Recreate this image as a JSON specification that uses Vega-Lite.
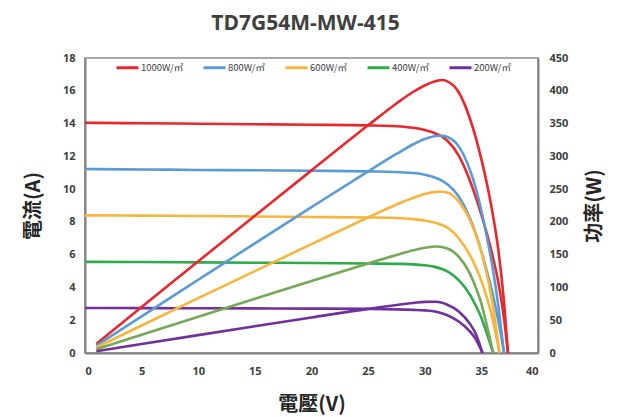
{
  "$schema": "https://vega.github.io/schema/vega-lite/v6.json",
  "autosize": "none",
  "width": 453,
  "height": 295,
  "padding": {"left": 85, "top": 58, "right": 86, "bottom": 64},
  "background": "white",
  "title": {
    "text": "TD7G54M-MW-415",
    "font": "Open Sans",
    "fontSize": 21,
    "fontWeight": "bold",
    "color": "#404040",
    "anchor": "middle",
    "offset": 18,
    "dx": -6
  },
  "config": {
    "view": {"stroke": "#8c8c8c", "strokeWidth": 1.5},
    "axis": {
      "labelFont": "Open Sans",
      "labelFontSize": 11,
      "labelFontWeight": "bold",
      "labelColor": "#404040",
      "ticks": false,
      "grid": false,
      "domainColor": "#808080",
      "domainWidth": 2,
      "titleFont": "Noto Sans CJK TC",
      "titleFontSize": 20,
      "titleFontWeight": "bold",
      "titleColor": "#262626"
    }
  },
  "data": {
    "values": [
      {"g": "1000W/㎡", "v": 0, "i": 14.05},
      {"g": "1000W/㎡", "v": 1, "i": 14.04, "p": 14.0},
      {"g": "1000W/㎡", "v": 5, "i": 14.02, "p": 70.1},
      {"g": "1000W/㎡", "v": 10, "i": 13.99, "p": 139.9},
      {"g": "1000W/㎡", "v": 15, "i": 13.96, "p": 209.4},
      {"g": "1000W/㎡", "v": 20, "i": 13.93, "p": 278.6},
      {"g": "1000W/㎡", "v": 25, "i": 13.89, "p": 347.3},
      {"g": "1000W/㎡", "v": 27.5, "i": 13.84, "p": 380.6},
      {"g": "1000W/㎡", "v": 29, "i": 13.74, "p": 398.5},
      {"g": "1000W/㎡", "v": 30, "i": 13.6, "p": 408.0},
      {"g": "1000W/㎡", "v": 31, "i": 13.38, "p": 414.8},
      {"g": "1000W/㎡", "v": 31.5, "i": 13.22, "p": 416.4},
      {"g": "1000W/㎡", "v": 32, "i": 12.95, "p": 414.4},
      {"g": "1000W/㎡", "v": 33, "i": 12.05, "p": 397.7},
      {"g": "1000W/㎡", "v": 34, "i": 10.5, "p": 357.0},
      {"g": "1000W/㎡", "v": 35, "i": 8.45, "p": 295.8},
      {"g": "1000W/㎡", "v": 35.5, "i": 7.25, "p": 257.4},
      {"g": "1000W/㎡", "v": 36, "i": 5.9, "p": 212.4},
      {"g": "1000W/㎡", "v": 36.5, "i": 4.3, "p": 157.0},
      {"g": "1000W/㎡", "v": 37, "i": 2.1, "p": 77.7},
      {"g": "1000W/㎡", "v": 37.35, "i": 0, "p": 0},

      {"g": "800W/㎡", "v": 0, "i": 11.23},
      {"g": "800W/㎡", "v": 1, "i": 11.22, "p": 11.2},
      {"g": "800W/㎡", "v": 5, "i": 11.2, "p": 56.0},
      {"g": "800W/㎡", "v": 10, "i": 11.17, "p": 111.7},
      {"g": "800W/㎡", "v": 15, "i": 11.15, "p": 167.3},
      {"g": "800W/㎡", "v": 20, "i": 11.12, "p": 222.4},
      {"g": "800W/㎡", "v": 25, "i": 11.08, "p": 277.0},
      {"g": "800W/㎡", "v": 27.5, "i": 11.04, "p": 303.6},
      {"g": "800W/㎡", "v": 29, "i": 10.98, "p": 318.4},
      {"g": "800W/㎡", "v": 30, "i": 10.88, "p": 326.4},
      {"g": "800W/㎡", "v": 31, "i": 10.68, "p": 331.1},
      {"g": "800W/㎡", "v": 31.5, "i": 10.52, "p": 331.4},
      {"g": "800W/㎡", "v": 32, "i": 10.3, "p": 329.6},
      {"g": "800W/㎡", "v": 33, "i": 9.55, "p": 315.2},
      {"g": "800W/㎡", "v": 34, "i": 8.2, "p": 278.8},
      {"g": "800W/㎡", "v": 34.5, "i": 7.3, "p": 251.9},
      {"g": "800W/㎡", "v": 35, "i": 6.2, "p": 217.0},
      {"g": "800W/㎡", "v": 35.5, "i": 4.95, "p": 175.7},
      {"g": "800W/㎡", "v": 36, "i": 3.6, "p": 129.6},
      {"g": "800W/㎡", "v": 36.5, "i": 1.95, "p": 71.2},
      {"g": "800W/㎡", "v": 37, "i": 0, "p": 0},

      {"g": "600W/㎡", "v": 0, "i": 8.4},
      {"g": "600W/㎡", "v": 1, "i": 8.4, "p": 8.4},
      {"g": "600W/㎡", "v": 5, "i": 8.38, "p": 41.9},
      {"g": "600W/㎡", "v": 10, "i": 8.36, "p": 83.6},
      {"g": "600W/㎡", "v": 15, "i": 8.33, "p": 125.0},
      {"g": "600W/㎡", "v": 20, "i": 8.3, "p": 166.0},
      {"g": "600W/㎡", "v": 25, "i": 8.27, "p": 206.8},
      {"g": "600W/㎡", "v": 27.5, "i": 8.24, "p": 226.6},
      {"g": "600W/㎡", "v": 29, "i": 8.17, "p": 236.9},
      {"g": "600W/㎡", "v": 30, "i": 8.08, "p": 242.4},
      {"g": "600W/㎡", "v": 31, "i": 7.93, "p": 245.8},
      {"g": "600W/㎡", "v": 31.5, "i": 7.81, "p": 246.0},
      {"g": "600W/㎡", "v": 32, "i": 7.65, "p": 244.8},
      {"g": "600W/㎡", "v": 33, "i": 7.0, "p": 231.0},
      {"g": "600W/㎡", "v": 34, "i": 5.95, "p": 202.3},
      {"g": "600W/㎡", "v": 34.5, "i": 5.25, "p": 181.1},
      {"g": "600W/㎡", "v": 35, "i": 4.4, "p": 154.0},
      {"g": "600W/㎡", "v": 35.5, "i": 3.35, "p": 118.9},
      {"g": "600W/㎡", "v": 36, "i": 2.05, "p": 73.8},
      {"g": "600W/㎡", "v": 36.6, "i": 0, "p": 0},

      {"g": "400W/㎡", "v": 0, "i": 5.56},
      {"g": "400W/㎡", "v": 1, "i": 5.56, "p": 5.6},
      {"g": "400W/㎡", "v": 5, "i": 5.55, "p": 27.8},
      {"g": "400W/㎡", "v": 10, "i": 5.53, "p": 55.3},
      {"g": "400W/㎡", "v": 15, "i": 5.51, "p": 82.7},
      {"g": "400W/㎡", "v": 20, "i": 5.49, "p": 109.8},
      {"g": "400W/㎡", "v": 25, "i": 5.46, "p": 136.5},
      {"g": "400W/㎡", "v": 27.5, "i": 5.44, "p": 149.6},
      {"g": "400W/㎡", "v": 29, "i": 5.41, "p": 156.9},
      {"g": "400W/㎡", "v": 30, "i": 5.35, "p": 160.5},
      {"g": "400W/㎡", "v": 31, "i": 5.24, "p": 162.4},
      {"g": "400W/㎡", "v": 32, "i": 4.98, "p": 159.4},
      {"g": "400W/㎡", "v": 33, "i": 4.45, "p": 146.9},
      {"g": "400W/㎡", "v": 34, "i": 3.55, "p": 120.7},
      {"g": "400W/㎡", "v": 34.5, "i": 2.9, "p": 100.1},
      {"g": "400W/㎡", "v": 35, "i": 2.15, "p": 75.3},
      {"g": "400W/㎡", "v": 35.5, "i": 1.15, "p": 40.8},
      {"g": "400W/㎡", "v": 36.05, "i": 0, "p": 0},

      {"g": "200W/㎡", "v": 0, "i": 2.75},
      {"g": "200W/㎡", "v": 1, "i": 2.75, "p": 2.7},
      {"g": "200W/㎡", "v": 5, "i": 2.74, "p": 13.7},
      {"g": "200W/㎡", "v": 10, "i": 2.73, "p": 27.3},
      {"g": "200W/㎡", "v": 15, "i": 2.72, "p": 40.8},
      {"g": "200W/㎡", "v": 20, "i": 2.71, "p": 54.2},
      {"g": "200W/㎡", "v": 25, "i": 2.69, "p": 67.3},
      {"g": "200W/㎡", "v": 27.5, "i": 2.66, "p": 73.2},
      {"g": "200W/㎡", "v": 29, "i": 2.63, "p": 76.3},
      {"g": "200W/㎡", "v": 30, "i": 2.6, "p": 78.0},
      {"g": "200W/㎡", "v": 31, "i": 2.52, "p": 78.1},
      {"g": "200W/㎡", "v": 32, "i": 2.3, "p": 73.6},
      {"g": "200W/㎡", "v": 33, "i": 1.92, "p": 63.4},
      {"g": "200W/㎡", "v": 34, "i": 1.3, "p": 44.2},
      {"g": "200W/㎡", "v": 34.5, "i": 0.85, "p": 29.3},
      {"g": "200W/㎡", "v": 35.1, "i": 0, "p": 0}
    ]
  },
  "encoding": {
    "x": {
      "field": "v",
      "type": "quantitative",
      "scale": {"domain": [0, 40], "nice": false},
      "axis": {
        "title": "電壓(V)",
        "values": [0, 5, 10, 15, 20, 25, 30, 35, 40],
        "labelPadding": 12,
        "titlePadding": 18
      }
    }
  },
  "layer": [
    {
      "mark": {"type": "line", "strokeWidth": 2.6, "interpolate": "monotone"},
      "encoding": {
        "y": {
          "field": "i",
          "type": "quantitative",
          "scale": {"domain": [0, 18], "nice": false},
          "axis": {
            "title": "電流(A)",
            "orient": "left",
            "values": [0, 2, 4, 6, 8, 10, 12, 14, 16, 18],
            "labelPadding": 10,
            "titlePadding": 19
          }
        },
        "color": {
          "field": "g",
          "type": "nominal",
          "scale": {
            "domain": ["1000W/㎡", "800W/㎡", "600W/㎡", "400W/㎡", "200W/㎡"],
            "range": ["#e8282c", "#5b9bd5", "#f9b43c", "#2eab4b", "#7030a0"]
          },
          "legend": {
            "title": null,
            "orient": "none",
            "direction": "horizontal",
            "legendX": 30,
            "legendY": -3,
            "symbolType": "stroke",
            "symbolSize": 484,
            "symbolStrokeWidth": 3,
            "labelFont": "Noto Sans CJK TC",
            "labelFontSize": 9.5,
            "labelColor": "#404040",
            "labelOffset": 1,
            "columnPadding": 13
          }
        }
      }
    },
    {
      "mark": {"type": "line", "strokeWidth": 2.6, "interpolate": "monotone"},
      "encoding": {
        "y": {
          "field": "p",
          "type": "quantitative",
          "scale": {"domain": [0, 450], "nice": false},
          "axis": {
            "title": "功率(W)",
            "orient": "right",
            "values": [0, 50, 100, 150, 200, 250, 300, 350, 400, 450],
            "labelPadding": 11,
            "titlePadding": 37,
            "titleAngle": -90
          }
        },
        "color": {
          "field": "g",
          "type": "nominal",
          "scale": {
            "domain": ["1000W/㎡", "800W/㎡", "600W/㎡", "400W/㎡", "200W/㎡"],
            "range": ["#e8282c", "#5b9bd5", "#f9b43c", "#74a955", "#7030a0"]
          },
          "legend": null
        }
      }
    }
  ],
  "resolve": {"scale": {"y": "independent", "color": "independent"}}
}
